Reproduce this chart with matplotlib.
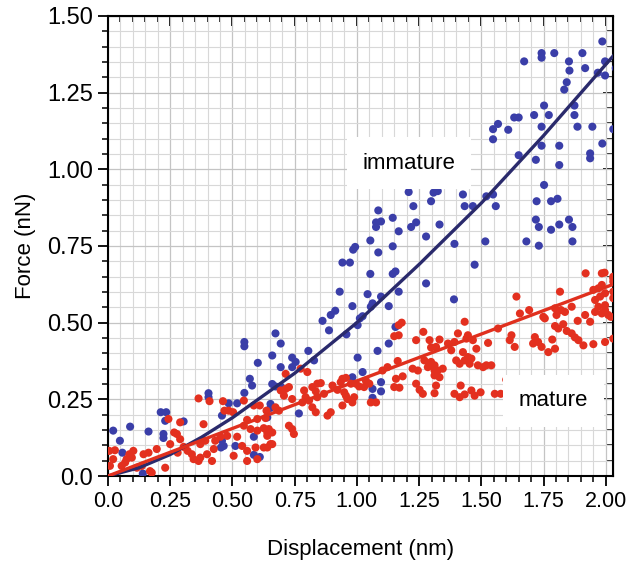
import matplotlib.pyplot as plt
from matplotlib.ticker import MultipleLocator

plt.rcParams['font.family'] = ['Liberation Sans', 'DejaVu Sans']

# immature (blue) scatter
imm_x = [0.548, 0.548, 0.66, 0.602, 0.57, 0.579, 0.66, 0.548, 0.404, 0.404, 0.485, 0.519,
         0.212, 0.234, 0.23, 0.304, 0.458, 0.021, 0.089, 0.163, 0.223, 0.223, 0.048, 0.586,
         0.458, 0.465, 0.454, 0.512, 0.058, 0.586, 0.61, 0.14,
         0.982, 1.063, 1.056, 1.128, 0.895, 0.913, 0.862, 0.888, 1.023, 1.012, 1.003, 0.958,
         1.155, 0.673, 0.694, 0.694, 0.74, 0.754, 0.74, 0.805, 0.828, 1.128, 1.083, 1.003,
         1.023, 0.982, 0.673, 0.694, 1.097, 1.063, 1.097, 1.063, 0.653, 0.653, 0.767, 0.64,
         1.208, 1.308, 1.298, 1.325, 1.227, 1.086, 1.144, 1.077, 1.097, 1.077, 1.238, 1.218,
         1.168, 1.332, 1.278, 1.054, 0.985, 0.993, 1.144, 1.086, 0.942, 0.972, 1.054, 1.144,
         1.155, 1.278, 0.931, 1.043, 1.097, 1.168,
         1.752, 1.874, 1.712, 1.771, 1.874, 1.632, 1.65, 1.567, 1.547, 1.608, 1.742, 1.886,
         1.946, 2.03, 1.547, 1.986, 1.742, 1.813, 1.65, 1.937, 1.937, 1.719, 1.813, 1.752,
         1.426, 1.52, 1.547, 1.722, 1.433, 1.466, 1.558, 1.78, 1.806, 1.719, 1.731, 1.78,
         1.813, 1.852, 1.866, 1.392, 1.516, 1.681, 1.731, 1.866,
         1.986, 1.742, 1.742, 1.793, 1.906, 1.672, 1.852, 1.997, 1.854, 1.917, 1.968, 1.997,
         2.04, 1.843, 1.833, 1.473, 1.39]
imm_y = [0.437, 0.423, 0.393, 0.369, 0.317, 0.295, 0.30, 0.271, 0.27, 0.257, 0.237, 0.237,
         0.208, 0.208, 0.18, 0.178, 0.197, 0.148, 0.161, 0.145, 0.137, 0.124, 0.115, 0.128,
         0.115, 0.098, 0.093, 0.098, 0.076, 0.069, 0.062, 0.008,
         0.554, 0.563, 0.552, 0.554, 0.525, 0.539, 0.506, 0.475, 0.521, 0.514, 0.492, 0.462,
         0.486, 0.465, 0.432, 0.355, 0.386, 0.372, 0.355, 0.408, 0.377, 0.432, 0.408, 0.386,
         0.339, 0.322, 0.292, 0.292, 0.306, 0.284, 0.276, 0.255, 0.235, 0.222, 0.204, 0.191,
         0.926, 0.924, 0.896, 0.929, 0.88, 0.866, 0.842, 0.827, 0.83, 0.812, 0.827, 0.812,
         0.798, 0.82, 0.781, 0.768, 0.738, 0.747, 0.749, 0.729, 0.696, 0.696, 0.659, 0.659,
         0.667, 0.628, 0.601, 0.593, 0.585, 0.601,
         1.208, 1.208, 1.177, 1.177, 1.177, 1.169, 1.169, 1.148, 1.131, 1.129, 1.139, 1.139,
         1.139, 1.131, 1.098, 1.084, 1.077, 1.077, 1.046, 1.052, 1.036, 1.031, 1.014, 0.949,
         0.918, 0.912, 0.918, 0.896, 0.88, 0.88, 0.88, 0.896, 0.904, 0.836, 0.812, 0.803,
         0.82, 0.836, 0.812, 0.757, 0.765, 0.765, 0.751, 0.765,
         1.417, 1.379, 1.364, 1.379, 1.379, 1.352, 1.352, 1.352, 1.322, 1.33, 1.315, 1.306,
         1.33, 1.284, 1.26, 0.689, 0.576]

# mature (red) scatter
mat_x = [0.364, 0.408, 0.462, 0.485, 0.468, 0.503, 0.546, 0.586, 0.61, 0.637, 0.559, 0.6,
         0.633, 0.243, 0.384, 0.266, 0.277, 0.29, 0.25, 0.546, 0.573, 0.6, 0.626, 0.64,
         0.479, 0.519, 0.431, 0.452, 0.371, 0.391, 0.304, 0.32, 0.337, 0.344, 0.364, 0.371,
         0.425, 0.398, 0.505, 0.539, 0.559, 0.593, 0.626, 0.66, 0.559, 0.6, 0.196, 0.163,
         0.143, 0.102, 0.086, 0.096, 0.075, 0.069, 0.055, 0.021, 0.028, 0.008, 0.005, 0.116,
         0.136, 0.176, 0.23, 0.28, 0.418, 0.169, 0.29,
         1.168, 1.18, 1.168, 1.267, 1.292, 1.332, 1.298, 1.164, 1.184, 1.171, 1.224, 1.245,
         1.271, 1.292, 1.312, 1.298, 1.238, 1.252, 1.265, 1.312, 1.332, 1.077, 1.009, 0.996,
         0.976, 0.942, 0.956, 0.935, 0.902, 0.922, 0.949, 0.855, 0.868, 0.956, 0.982, 0.942,
         0.821, 0.835, 0.841, 0.774, 0.801, 0.794, 0.808, 0.781, 0.821, 0.835, 0.882, 0.895,
         0.694, 0.707, 0.714, 0.727, 0.74, 0.646, 0.66, 0.64, 0.653, 0.64, 0.727, 0.74,
         0.747, 0.673, 0.687, 1.036, 1.05, 1.103, 1.123,
         1.919, 1.984, 1.995, 2.03, 2.03, 2.03, 1.97, 1.984, 1.997, 1.977, 2.03, 2.03,
         1.997, 2.01, 2.02, 1.997, 1.816, 1.641, 1.863, 1.836, 1.82, 1.796, 1.802, 1.917,
         1.749, 1.755, 1.692, 1.655, 1.887, 1.937, 1.796, 1.809, 1.829, 1.843, 1.863, 1.876,
         1.89, 1.91, 1.95, 1.997, 2.03, 1.715, 1.728, 1.708, 1.742, 1.769, 1.796, 1.785,
         1.621, 1.614, 1.634, 1.567, 1.527, 1.48, 1.433, 1.44, 1.446, 1.466, 1.406, 1.392,
         1.366, 1.318, 1.426, 1.446, 1.433, 1.413, 1.399, 1.46, 1.453, 1.312, 1.325, 1.345,
         1.507, 1.54, 1.318, 1.392, 1.413, 1.433, 1.417, 1.46, 1.473, 1.497, 1.621, 1.578,
         1.15, 1.238, 1.379, 1.285, 1.312, 1.486, 1.52, 1.6, 1.157, 1.15, 1.554, 0.841,
         0.788, 0.714, 0.962, 0.989, 1.029, 1.056, 1.95, 1.957, 1.97, 1.984, 1.957]
mat_y = [0.253, 0.244, 0.244, 0.213, 0.213, 0.208, 0.246, 0.23, 0.23, 0.213, 0.183, 0.186,
         0.189, 0.186, 0.169, 0.142, 0.137, 0.12, 0.104, 0.164, 0.153, 0.148, 0.156, 0.142,
         0.131, 0.128, 0.115, 0.128, 0.104, 0.115, 0.095, 0.082, 0.071, 0.055, 0.049, 0.06,
         0.088, 0.071, 0.066, 0.098, 0.082, 0.093, 0.093, 0.104, 0.049, 0.055, 0.088, 0.076,
         0.071, 0.082, 0.071, 0.06, 0.055, 0.044, 0.033, 0.055, 0.084, 0.033, 0.082, 0.027,
         0.033, 0.011, 0.027, 0.076, 0.049, 0.016, 0.175,
         0.492, 0.50, 0.459, 0.47, 0.443, 0.445, 0.419, 0.375, 0.325, 0.288, 0.35, 0.344,
         0.377, 0.361, 0.344, 0.372, 0.301, 0.281, 0.268, 0.27, 0.322, 0.24, 0.292, 0.301,
         0.301, 0.317, 0.32, 0.306, 0.295, 0.281, 0.273, 0.303, 0.268, 0.262, 0.24, 0.23,
         0.29, 0.276, 0.257, 0.35, 0.339, 0.257, 0.246, 0.24, 0.224, 0.208, 0.197, 0.208,
         0.279, 0.262, 0.284, 0.29, 0.251, 0.153, 0.142, 0.131, 0.104, 0.093, 0.164, 0.153,
         0.137, 0.224, 0.213, 0.311, 0.301, 0.344, 0.355,
         0.661, 0.661, 0.663, 0.645, 0.634, 0.65, 0.612, 0.623, 0.596, 0.585, 0.601, 0.58,
         0.541, 0.525, 0.519, 0.557, 0.601, 0.585, 0.552, 0.535, 0.541, 0.547, 0.525, 0.525,
         0.519, 0.514, 0.541, 0.53, 0.506, 0.503, 0.489, 0.481, 0.495, 0.473, 0.465, 0.452,
         0.443, 0.426, 0.43, 0.437, 0.448, 0.453, 0.437, 0.432, 0.421, 0.404, 0.415, 0.445,
         0.459, 0.443, 0.421, 0.481, 0.434, 0.415, 0.503, 0.448, 0.459, 0.443, 0.465, 0.437,
         0.432, 0.421, 0.404, 0.388, 0.377, 0.366, 0.377, 0.383, 0.366, 0.361, 0.344, 0.35,
         0.355, 0.361, 0.295, 0.268, 0.257, 0.266, 0.295, 0.279, 0.262, 0.273, 0.314, 0.268,
         0.456, 0.443, 0.41, 0.355, 0.328, 0.361, 0.361, 0.314, 0.317, 0.29, 0.268, 0.301,
         0.279, 0.333, 0.251, 0.257, 0.29, 0.24, 0.607, 0.574, 0.552, 0.53, 0.535]

# fitted curves
imm_fit_x = [0.0, 0.125, 0.25, 0.375, 0.5, 0.75, 1.0, 1.25, 1.5, 1.75, 2.03]
imm_fit_y = [0.0, 0.027, 0.07, 0.126, 0.19, 0.335, 0.50, 0.69, 0.89, 1.11, 1.37]
mat_fit_x = [0.0, 1.0, 2.03]
mat_fit_y = [0.0, 0.31, 0.625]

x_ticks = [0, 0.25, 0.5, 0.75, 1.0, 1.25, 1.5, 1.75, 2.0]
x_labels = ['0.0', '0.25', '0.50', '0.75', '1.00', '1.25', '1.50', '1.75', '2.00']
y_ticks = [0, 0.25, 0.5, 0.75, 1.0, 1.25, 1.5]
y_labels = ['0.0', '0.25', '0.50', '0.75', '1.00', '1.25', '1.50']

fig = plt.figure(figsize=(6.35, 5.61), dpi=100)
ax = fig.add_axes([0.170, 0.1515, 0.795, 0.820])

ax.scatter(imm_x, imm_y, s=34, color='#3a3ea8', edgecolors='none', zorder=3)
ax.scatter(mat_x, mat_y, s=34, color='#e3301f', edgecolors='none', zorder=3)
ax.plot(imm_fit_x, imm_fit_y, color='#2a2a6c', lw=2.4, zorder=4)
ax.plot(mat_fit_x, mat_fit_y, color='#e0301e', lw=2.4, zorder=4)

ax.set_xlim(0, 2.028)
ax.set_ylim(0, 1.5)
ax.set_xticks(x_ticks, x_labels)
ax.set_yticks(y_ticks, y_labels)
ax.xaxis.set_minor_locator(MultipleLocator(0.05))
ax.yaxis.set_minor_locator(MultipleLocator(0.05))
ax.grid(which='major', color='#c4c4c4', lw=0.9)
ax.grid(which='minor', color='#d8d8d8', lw=0.8)
ax.set_axisbelow(True)

ax.tick_params(which='major', direction='out', length=7, width=1.3, labelsize=15.5)
ax.tick_params(axis='y', which='major', labelsize=17, pad=4)
ax.tick_params(which='minor', direction='out', length=4, width=1.1)
for side in ax.spines.values():
    side.set_linewidth(1.5)

# top and right ticks point inward
top = ax.secondary_xaxis('top')
top.set_xticks(x_ticks)
top.xaxis.set_minor_locator(MultipleLocator(0.05))
top.tick_params(which='major', direction='in', length=7, width=1.3, labeltop=False)
top.tick_params(which='minor', direction='in', length=4, width=1.1)
right = ax.secondary_yaxis('right')
right.set_yticks(y_ticks)
right.yaxis.set_minor_locator(MultipleLocator(0.05))
right.tick_params(which='major', direction='in', length=7, width=1.3, labelright=False)
right.tick_params(which='minor', direction='in', length=4, width=1.1)

ax.set_xlabel('Displacement (nm)', fontsize=16, labelpad=20)
ax.set_ylabel('Force (nN)', fontsize=16, labelpad=8)

ax.text(1.21, 1.02, 'immature', fontsize=16, ha='center', va='center', zorder=5,
        bbox=dict(facecolor='white', edgecolor='none', boxstyle='square,pad=0.7'))
ax.text(1.79, 0.245, 'mature', fontsize=16, ha='center', va='center', zorder=5,
        bbox=dict(facecolor='white', edgecolor='none', boxstyle='square,pad=0.7'))

fig.savefig('out.png', dpi=100)
